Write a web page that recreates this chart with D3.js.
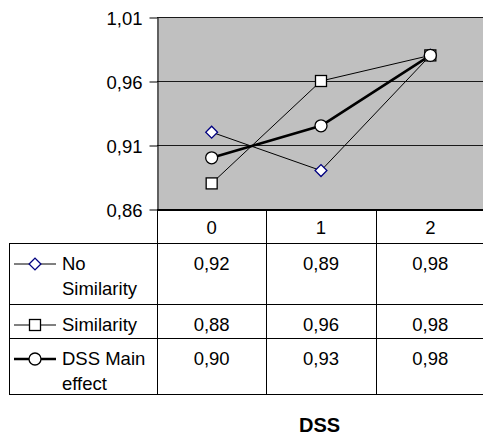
<!DOCTYPE html>
<html lang="en">

<head>
    <meta charset="utf-8" />
    <script src="https://d3js.org/d3.v7.min.js"></script>
    <style>
        html, body { margin: 0; padding: 0; background: #fff; }
        svg text { font-family: "Liberation Sans", Arial, sans-serif; fill: #000; }
    </style>
</head>

<body>
    <script>

        // data
        const categories = ["0", "1", "2"];
        const noSimilarity = [0.92, 0.89, 0.98];
        const similarity = [0.88, 0.96, 0.98];
        const dssMainEffect = [0.90, 0.925, 0.98];
        const seriesLabels = [["No", "Similarity"], ["Similarity"], ["DSS Main", "effect"]];
        const yTicks = [0.86, 0.91, 0.96, 1.01];
        const axisTitle = "DSS";

        const w = 483;
        const h = 435;
        const fontSize = 18.5;

        const plotLeft = 157, plotRight = 485, plotTop = 17, plotBottom = 209;
        const headerBottom = 243;
        const rowHeights = [61, 34, 56];
        const tableLeft = 9;

        const series = [
            { values: noSimilarity, symbol: "diamond", width: 1, stroke: "#000080" },
            { values: similarity, symbol: "square", width: 1, stroke: "#000" },
            { values: dssMainEffect, symbol: "circle", width: 2.6, stroke: "#000" }
        ];

        const comma = v => d3.format(".2f")(v).replace(".", ",");

        const svg = d3.select("body")
            .append("svg")
            .attr("width", w)
            .attr("height", h)

        const xScale = d3.scaleBand()
            .domain(categories)
            .range([plotLeft, plotRight])
            .padding(0)

        const yScale = d3.scaleLinear()
            .domain([0.86, 1.01])
            .range([plotBottom, plotTop])

        // plot area
        svg.append("rect")
            .attr("x", plotLeft)
            .attr("y", plotTop)
            .attr("width", plotRight - plotLeft)
            .attr("height", plotBottom - plotTop)
            .style("fill", "#c0c0c0")

        // gridlines
        svg.selectAll(".grid")
            .data(yTicks.slice(1))
            .enter()
            .append("line")
            .attr("x1", plotLeft)
            .attr("x2", plotRight)
            .attr("y1", d => Math.round(yScale(d)) + 0.5)
            .attr("y2", d => Math.round(yScale(d)) + 0.5)
            .style("stroke", "#1a1a1a")
            .style("stroke-width", 1)

        // y axis
        const yAxis = d3.axisLeft(yScale)
            .tickValues(yTicks)
            .tickSize(8)
            .tickSizeOuter(0)
            .tickPadding(7)
            .tickFormat(comma)

        const yG = svg.append("g")
            .attr("transform", "translate(" + (plotLeft + 0.5) + ", 0.5)")
            .call(yAxis)
        yG.select(".domain").style("stroke", "#000")
        yG.selectAll(".tick line").style("stroke", "#000")
        yG.selectAll("text")
            .style("font-size", fontSize + "px")
            .style("font-family", "'Liberation Sans', Arial, sans-serif")
            .attr("fill", "#000")
            .attr("dy", "0.36em")

        // table (x axis as data table)
        const rowTops = [headerBottom];
        rowHeights.forEach((r, i) => rowTops.push(rowTops[i] + r));
        const tableBottom = rowTops[rowTops.length - 1];

        const tbl = svg.append("g").style("stroke", "#000").style("stroke-width", 1)

        // horizontal lines
        rowTops.forEach(y => {
            tbl.append("line")
                .attr("x1", tableLeft).attr("x2", plotRight)
                .attr("y1", y + 0.5).attr("y2", y + 0.5)
        })
        // vertical lines at category boundaries
        categories.forEach(c => {
            tbl.append("line")
                .attr("x1", Math.round(xScale(c)) + 0.5).attr("x2", Math.round(xScale(c)) + 0.5)
                .attr("y1", plotBottom).attr("y2", tableBottom + 1)
        })
        tbl.append("line")
            .attr("x1", tableLeft + 0.5).attr("x2", tableLeft + 0.5)
            .attr("y1", headerBottom).attr("y2", tableBottom + 1)

        // x axis line (thicker)
        svg.append("line")
            .attr("x1", plotLeft).attr("x2", plotRight)
            .attr("y1", plotBottom + 1).attr("y2", plotBottom + 1)
            .style("stroke", "#000")
            .style("stroke-width", 2)

        // header labels
        svg.selectAll(".cat")
            .data(categories)
            .enter()
            .append("text")
            .attr("x", d => xScale(d) + xScale.bandwidth() / 2)
            .attr("y", 234)
            .attr("text-anchor", "middle")
            .style("font-size", fontSize + "px")
            .text(d => d)

        // lines
        const line = d3.line()
            .x((d, i) => xScale(categories[i]) + xScale.bandwidth() / 2)
            .y(d => yScale(d))

        series.forEach(s => {
            svg.append("path")
                .datum(s.values)
                .attr("d", line)
                .style("fill", "none")
                .style("stroke", "#000")
                .style("stroke-width", s.width)
                .style("stroke-linejoin", "round")
        })

        function drawMarker(g, type, x, y, stroke) {
            if (type === "diamond") {
                g.append("path")
                    .attr("d", d3.symbol(d3.symbolSquare, 70)())
                    .attr("transform", "translate(" + x + "," + y + ") rotate(45)")
                    .style("fill", "#fff")
                    .style("stroke", stroke)
                    .style("stroke-width", 1.3)
            } else if (type === "square") {
                g.append("rect")
                    .attr("x", x - 5.5).attr("y", y - 5.5)
                    .attr("width", 11).attr("height", 11)
                    .style("fill", "#fff")
                    .style("stroke", stroke)
                    .style("stroke-width", 1.3)
            } else {
                g.append("circle")
                    .attr("cx", x).attr("cy", y).attr("r", 6)
                    .style("fill", "#fff")
                    .style("stroke", stroke)
                    .style("stroke-width", 1.3)
            }
        }

        // markers
        series.forEach(s => {
            s.values.forEach((v, i) => {
                drawMarker(svg, s.symbol, xScale(categories[i]) + xScale.bandwidth() / 2, yScale(v), s.stroke)
            })
        })

        // table rows: legend key, label, values
        series.forEach((s, r) => {
            const top = rowTops[r];
            const base = top + 27;
            const keyY = base - 6;
            svg.append("line")
                .attr("x1", 14).attr("x2", 56)
                .attr("y1", keyY).attr("y2", keyY)
                .style("stroke", "#000")
                .style("stroke-width", s.width)
            drawMarker(svg, s.symbol, 35, keyY, s.stroke)

            seriesLabels[r].forEach((t, k) => {
                svg.append("text")
                    .attr("x", 62)
                    .attr("y", base + k * 25)
                    .style("font-size", fontSize + "px")
                    .text(t)
            })

            svg.selectAll(".v" + r)
                .data(s.values)
                .enter()
                .append("text")
                .attr("x", (d, i) => xScale(categories[i]) + xScale.bandwidth() / 2)
                .attr("y", base)
                .attr("text-anchor", "middle")
                .style("font-size", fontSize + "px")
                .text(d => comma(d))
        })

        // axis title
        svg.append("text")
            .attr("x", 319.5)
            .attr("y", 432)
            .attr("text-anchor", "middle")
            .style("font-size", "20px")
            .style("font-weight", "bold")
            .text(axisTitle)

    </script>
</body>

</html>
